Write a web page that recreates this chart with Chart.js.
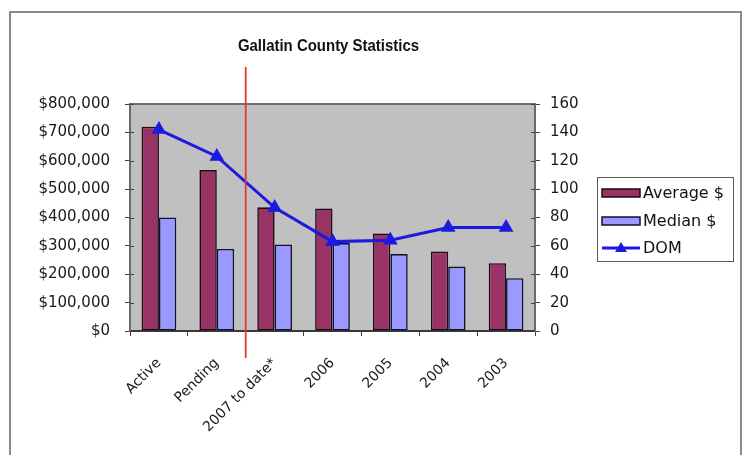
<!DOCTYPE html>
<html>
<head>
<meta charset="utf-8">
<title>Gallatin County Statistics</title>
<script src="https://cdn.jsdelivr.net/npm/chart.js@4/dist/chart.umd.min.js"></script>
<style>
  html, body { margin: 0; padding: 0; background: #ffffff; }
  #wrap { position: relative; width: 744px; height: 455px; }
</style>
</head>
<body>
<div id="wrap"><canvas id="chart" width="744" height="455"></canvas></div>
<script>
// Market statistics by period
const categories = ['Active', 'Pending', '2007 to date*', '2006', '2005', '2004', '2003'];
const averagePrice = [720000, 567000, 436000, 432000, 344000, 280000, 239000];
const medianPrice = [400000, 289000, 305000, 310000, 271000, 227000, 186000];
const daysOnMarket = [142, 123, 87, 63, 64, 73, 73];

// Axis ranges
const priceAxis = { min: 0, max: 800000, step: 100000 };
const domAxis = { min: 0, max: 160, step: 20 };

const chartTitle = 'Gallatin County Statistics';
const seriesNames = ['Average $', 'Median $', 'DOM'];

const TICK_FONT = { family: 'DejaVu Sans', size: 15 };
const X_FONT = { family: 'DejaVu Sans', size: 14 };

// Background, frame, plot wall, marker line, title and legend
const decor = {
  id: 'decor',
  beforeDraw(chart) {
    const { ctx, chartArea: a } = chart;
    ctx.save();
    ctx.fillStyle = '#ffffff';
    ctx.fillRect(0, 0, chart.width, chart.height);
    // outer frame
    ctx.strokeStyle = '#8a8a8a';
    ctx.lineWidth = 2;
    ctx.strokeRect(10, 12, 731, 460);
    // plot wall
    ctx.fillStyle = '#c0c0c0';
    ctx.fillRect(a.left, a.top, a.right - a.left, a.bottom - a.top);
    ctx.restore();
  },
  afterDraw(chart) {
    const { ctx, chartArea: a, scales } = chart;
    ctx.save();
    // top edge of the wall
    ctx.strokeStyle = '#6e6e6e';
    ctx.lineWidth = 2;
    ctx.beginPath();
    ctx.moveTo(a.left - 1, a.top);
    ctx.lineTo(a.right + 1, a.top);
    ctx.stroke();

    // inner halves of the tick marks
    ctx.strokeStyle = '#404040';
    ctx.lineWidth = 1;
    ctx.beginPath();
    scales.y.ticks.forEach(t => {
      const py = Math.round(scales.y.getPixelForValue(t.value)) + 0.5;
      ctx.moveTo(a.left, py); ctx.lineTo(a.left + 4, py);
    });
    scales.y1.ticks.forEach(t => {
      const py = Math.round(scales.y1.getPixelForValue(t.value)) + 0.5;
      ctx.moveTo(a.right - 4, py); ctx.lineTo(a.right, py);
    });
    ctx.stroke();

    // divider between current listings and yearly figures
    const xs = scales.x;
    const divX = (xs.getPixelForValue(1) + xs.getPixelForValue(2)) / 2;
    ctx.strokeStyle = '#e23a30';
    ctx.lineWidth = 1.8;
    ctx.beginPath();
    ctx.moveTo(divX, 67);
    ctx.lineTo(divX, 358);
    ctx.stroke();

    // title (slightly narrowed bold face)
    ctx.save();
    ctx.fillStyle = '#111111';
    ctx.font = 'bold 17px "Liberation Sans", Arial, sans-serif';
    ctx.textAlign = 'center';
    ctx.textBaseline = 'middle';
    ctx.translate((a.left + a.right) / 2 - 4, 46);
    ctx.scale(0.88, 1);
    ctx.fillText(chartTitle, 0, 0);
    ctx.restore();

    // legend
    const lx = 597, ly = 177, lw = 136, lh = 84;
    ctx.fillStyle = '#ffffff';
    ctx.fillRect(lx, ly, lw, lh);
    ctx.strokeStyle = '#5a5a5a';
    ctx.lineWidth = 1;
    ctx.strokeRect(lx + 0.5, ly + 0.5, lw, lh);
    const rows = [193, 221, 248];
    const ds = chart.data.datasets;
    ctx.font = '16px "DejaVu Sans", sans-serif';
    ctx.textAlign = 'left';
    ctx.textBaseline = 'middle';
    for (let i = 0; i < ds.length; i++) {
      const cy = rows[i];
      if (ds[i].type === 'line') {
        ctx.strokeStyle = ds[i].borderColor;
        ctx.lineWidth = 3;
        ctx.beginPath();
        ctx.moveTo(602, cy); ctx.lineTo(640, cy);
        ctx.stroke();
        ctx.fillStyle = ds[i].borderColor;
        ctx.beginPath();
        ctx.moveTo(621, cy - 6); ctx.lineTo(627, cy + 4); ctx.lineTo(615, cy + 4);
        ctx.closePath();
        ctx.fill();
      } else {
        ctx.fillStyle = ds[i].backgroundColor;
        ctx.fillRect(602, cy - 4, 38, 8);
        ctx.strokeStyle = ds[i].borderColor;
        ctx.lineWidth = 1.5;
        ctx.strokeRect(602, cy - 4, 38, 8);
      }
      ctx.fillStyle = '#111111';
      ctx.fillText(ds[i].label, 643, cy + 1);
    }
    ctx.restore();
  }
};

const money = v => '$' + Number(v).toLocaleString('en-US');

new Chart(document.getElementById('chart'), {
  type: 'bar',
  data: {
    labels: categories,
    datasets: [
      {
        label: seriesNames[0],
        data: averagePrice,
        yAxisID: 'y',
        backgroundColor: '#993366',
        borderColor: '#1c0a12',
        borderWidth: 1.6,
        borderSkipped: false,
        order: 1
      },
      {
        label: seriesNames[1],
        data: medianPrice,
        yAxisID: 'y',
        backgroundColor: '#9999ff',
        borderColor: '#111133',
        borderWidth: 1.6,
        borderSkipped: false,
        order: 1
      },
      {
        label: seriesNames[2],
        type: 'line',
        data: daysOnMarket,
        yAxisID: 'y1',
        borderColor: '#1a1ae0',
        backgroundColor: '#1a1ae0',
        borderWidth: 3,
        pointStyle: 'triangle',
        pointRadius: 5.5,
        pointBackgroundColor: '#1a1ae0',
        pointBorderColor: '#1a1ae0',
        tension: 0,
        order: 0
      }
    ]
  },
  options: {
    responsive: false,
    animation: false,
    devicePixelRatio: 1,
    layout: { padding: { top: 104, left: 0, right: 0, bottom: 0 } },
    datasets: { bar: { categoryPercentage: 0.6, barPercentage: 1.0 } },
    plugins: {
      legend: { display: false },
      title: { display: false },
      tooltip: { enabled: false }
    },
    scales: {
      x: {
        offset: true,
        grid: { offset: true, drawOnChartArea: false, drawTicks: true, tickLength: 5, color: '#404040' },
        border: { display: true, color: '#3a3a3a', width: 2 },
        ticks: {
          autoSkip: false, minRotation: 45, maxRotation: 45,
          font: X_FONT, color: '#1a1a1a', padding: 19
        },
        afterFit(s) { s.height = 455 - 331; }
      },
      y: {
        position: 'left',
        min: priceAxis.min, max: priceAxis.max,
        grid: { drawOnChartArea: false, drawTicks: true, tickLength: 5, color: '#404040' },
        border: { display: true, color: '#6a6a6a', width: 2 },
        ticks: { stepSize: priceAxis.step, callback: money, font: TICK_FONT, color: '#1a1a1a', padding: 15 },
        afterFit(s) { s.width = 130; }
      },
      y1: {
        position: 'right',
        min: domAxis.min, max: domAxis.max,
        grid: { drawOnChartArea: false, drawTicks: true, tickLength: 5, color: '#404040' },
        border: { display: true, color: '#6a6a6a', width: 2 },
        ticks: { stepSize: domAxis.step, font: TICK_FONT, color: '#1a1a1a', padding: 10 },
        afterFit(s) { s.width = 744 - 535; }
      }
    }
  },
  plugins: [decor]
});
</script>
</body>
</html>
